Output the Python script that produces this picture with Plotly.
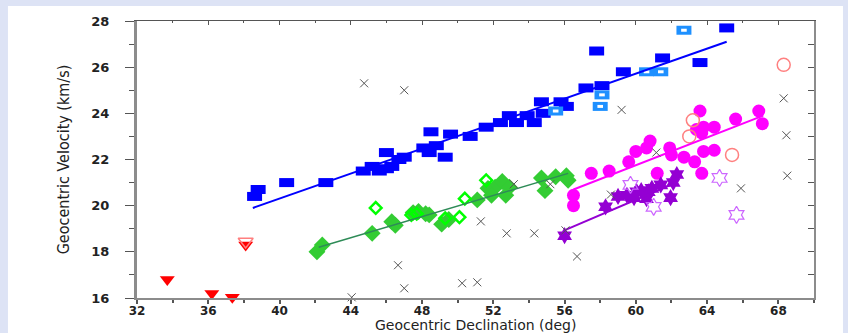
import plotly.graph_objects as go

# ---- Data: geocentric declination (deg) vs geocentric velocity (km/s) ----
# Blue filled squares
blue_x = [38.6, 38.8, 40.4, 42.6, 44.7, 45.2, 45.6, 46.0, 46.0, 46.3, 46.7, 47.0,
          48.1, 48.5, 48.4, 48.8, 49.3, 49.6, 50.7, 51.6, 52.4, 52.9, 53.3, 53.9,
          54.3, 54.7, 54.8, 55.8, 56.1, 57.2, 58.1, 57.8, 59.3, 61.5, 63.6, 65.1]
blue_y = [20.4, 20.7, 21.0, 21.0, 21.5, 21.7, 21.5, 22.3, 21.6, 21.7, 22.0, 22.1,
          22.5, 23.2, 22.3, 22.6, 22.1, 23.1, 23.0, 23.4, 23.6, 23.9, 23.6, 23.9,
          23.6, 24.5, 24.0, 24.5, 24.3, 25.1, 25.2, 26.7, 25.8, 26.4, 26.2, 27.7]
# Light blue open squares
ltblue_x = [55.5, 58.1, 58.0, 60.6, 61.4, 62.7]
ltblue_y = [24.1, 24.8, 24.3, 25.8, 25.8, 27.6]
blue_fit_x = [38.5, 65.1]
blue_fit_y = [19.9, 27.1]

# Green filled diamonds
green_x = [42.1, 42.4, 45.2, 46.3, 46.5, 47.5, 47.8, 48.2, 48.4, 49.1, 49.5, 51.1,
           51.7, 52.1, 52.5, 52.7, 51.9, 52.9, 54.7, 54.9, 55.5, 56.1, 56.2]
green_y = [18.0, 18.3, 18.8, 19.3, 19.15, 19.7, 19.75, 19.65, 19.6, 19.2, 19.4, 20.25,
           20.75, 20.8, 21.05, 20.45, 20.45, 20.8, 21.2, 20.65, 21.25, 21.3, 21.1]
# Green open diamonds
ltgreen_x = [45.4, 47.4, 47.7, 49.3, 50.1, 50.4, 51.6]
ltgreen_y = [19.9, 19.6, 19.65, 19.45, 19.5, 20.3, 21.1]
green_fit_x = [42.2, 56.2]
green_fit_y = [18.2, 21.4]

# Magenta filled circles
mag_x = [63.6, 66.9, 65.6, 67.1, 63.4, 63.8, 64.4, 63.7, 60.8, 60.6, 60.0, 61.9,
         62.0, 62.7, 63.8, 64.4, 63.3, 59.6, 58.5, 57.5, 61.2, 63.7, 56.5, 56.5]
mag_y = [24.1, 24.1, 23.75, 23.55, 23.3, 23.4, 23.4, 23.15, 22.8, 22.5, 22.35, 22.5,
         22.2, 22.1, 22.35, 22.4, 21.9, 21.9, 21.5, 21.4, 21.4, 21.4, 20.45, 20.0]
# Pink open circles
pink_x = [63.2, 63.0, 65.4, 68.3]
pink_y = [23.7, 23.0, 22.2, 26.1]
mag_fit_x = [56.5, 67.15]
mag_fit_y = [20.7, 23.9]

# Purple filled stars
purple_x = [56.0, 58.3, 59.0, 59.5, 59.9, 60.05, 60.3, 60.7, 60.9, 61.4, 61.95, 62.1, 62.3, 60.6]
purple_y = [18.7, 19.95, 20.4, 20.45, 20.35, 20.6, 20.65, 20.6, 20.75, 20.9, 20.35, 21.0, 21.35, 20.3]
# Violet open stars
violet_x = [59.7, 61.0, 64.7, 65.65]
violet_y = [20.9, 19.95, 21.2, 19.6]
purple_fit_x = [56.05, 62.1]
purple_fit_y = [18.95, 20.95]

# Red triangles
red_x = [33.7, 36.2, 37.35, 38.1]
red_y = [16.8, 16.2, 16.03, 18.3]
red_open_x = [38.1]
red_open_y = [18.45]

# Sporadic (gray crosses)
cross_x = [44.75, 47.0, 59.2, 68.3, 68.45, 61.15, 68.5, 53.15, 55.2, 51.3, 52.75,
           54.3, 56.05, 56.7, 46.65, 47.0, 44.05, 50.25, 51.1, 58.6, 65.9]
cross_y = [25.3, 25.0, 24.15, 24.65, 23.05, 22.3, 21.3, 20.93, 20.93, 19.32, 18.8,
           18.8, 18.93, 17.8, 17.42, 16.42, 16.03, 16.64, 16.68, 20.48, 20.75]

x_range = [32, 70]
y_range = [16, 28]
x_title = "Geocentric Declination (deg)"
y_title = "Geocentric Velocity (km/s)"

fig = go.Figure()


def pts(x, y, **marker):
    fig.add_trace(go.Scatter(x=x, y=y, mode="markers", marker=marker,
                             showlegend=False, cliponaxis=False, hoverinfo="skip"))


def fit(x, y, color, width):
    fig.add_trace(go.Scatter(x=x, y=y, mode="lines", line=dict(color=color, width=width),
                             showlegend=False, hoverinfo="skip"))


# red triangles
pts(red_x, red_y, symbol="triangle-down", size=13, color="#ff0000", line=dict(width=0))
pts(red_open_x, red_open_y, symbol="triangle-down-open", size=13, color="#ff7f7f",
    line=dict(width=1.5, color="#ff7f7f"))

# blue rectangles (wide bars)
pts(blue_x, blue_y, symbol="line-ew", size=10.7, color="#0000ff",
    line=dict(width=9, color="#0000ff"))
pts(ltblue_x, ltblue_y, symbol="line-ew", size=10.7, color="#1e90ff",
    line=dict(width=9, color="#1e90ff"))
pts(ltblue_x, ltblue_y, symbol="line-ew", size=4, color="#ffffff",
    line=dict(width=3, color="#ffffff"))

# green diamonds
pts(green_x, green_y, symbol="diamond", size=13, color="#33cc33", line=dict(width=0))
pts(ltgreen_x, ltgreen_y, symbol="diamond-open", size=9, color="#00ff00",
    line=dict(width=2.5, color="#00ff00"))

# magenta circles
pts(mag_x, mag_y, symbol="circle", size=13, color="#ff00ff", line=dict(width=0))
pts(pink_x, pink_y, symbol="circle-open", size=13, color="#ff8080",
    line=dict(width=1.5, color="#ff8080"))

# purple stars
pts(purple_x, purple_y, symbol="hexagram", size=13, color="#9400d3", line=dict(width=0))
pts(violet_x, violet_y, symbol="hexagram-open", size=13, color="#cc66ff",
    line=dict(width=1.2, color="#cc66ff"))

# regression lines
fit(blue_fit_x, blue_fit_y, "#0000ff", 2)
fit(green_fit_x, green_fit_y, "#2e8b57", 1.5)
fit(mag_fit_x, mag_fit_y, "#ff00ff", 2)
fit(purple_fit_x, purple_fit_y, "#9400d3", 2)

# sporadic crosses
pts(cross_x, cross_y, symbol="x-thin-open", size=8, color="#555555",
    line=dict(width=1, color="#555555"))

# helper trace so the mirrored top/right axes are drawn
fig.add_trace(go.Scatter(x=[], y=[], xaxis="x2", yaxis="y2", showlegend=False))

tick_font = dict(family="DejaVu Sans", size=13, color="#222222", weight="bold")
xtick_font = dict(family="DejaVu Sans", size=12, color="#222222", weight="bold")

fig.update_layout(
    width=848, height=333,
    margin=dict(l=137, r=34, t=21, b=35),
    paper_bgcolor="#dde3f5",
    plot_bgcolor="#ffffff",
    showlegend=False,
    xaxis=dict(
        range=x_range, tick0=32, dtick=4, showgrid=False, zeroline=False,
        automargin=False,
        showline=True, linecolor="#8c8c8c", linewidth=2,
        ticks="outside", ticklen=4, tickwidth=1.5, tickcolor="#555555",
        minor=dict(dtick=2, ticks="outside", ticklen=3, tickcolor="#555555"),
        tickfont=xtick_font, ticklabelstandoff=-3,
    ),
    yaxis=dict(
        range=y_range, tick0=16, dtick=2, showgrid=False, zeroline=False,
        automargin=False,
        showline=True, linecolor="#8c8c8c", linewidth=3,
        ticks="outside", ticklen=9, tickwidth=1, tickcolor="#555555",
        minor=dict(dtick=1, ticks="outside", ticklen=5, tickcolor="#555555"),
        tickfont=tick_font, ticklabelstandoff=13,
        title=dict(text=y_title, standoff=18,
                   font=dict(family="Liberation Sans Narrow, DejaVu Sans Condensed, Liberation Sans",
                             size=16, color="#222222")),
    ),
    xaxis2=dict(
        overlaying="x", side="top", matches="x", range=x_range, tick0=32, dtick=4,
        showgrid=False, zeroline=False, showticklabels=False, automargin=False,
        showline=True, linecolor="#555555", linewidth=1,
        ticks="inside", ticklen=4, tickcolor="#555555",
        minor=dict(dtick=2, ticks="inside", ticklen=2, tickcolor="#555555"),
    ),
    yaxis2=dict(
        overlaying="y", side="right", matches="y", range=y_range, tick0=16, dtick=1,
        showgrid=False, zeroline=False, showticklabels=False, automargin=False,
        showline=True, linecolor="#8c8c8c", linewidth=2,
        ticks="inside", ticklen=6, tickcolor="#555555",
    ),
    # x-axis title sits low, just above the lower edge of the page
    annotations=[dict(text=x_title, xref="paper", yref="paper", x=0.5, y=-0.0957,
                      xanchor="center", yanchor="middle", showarrow=False,
                      font=dict(family="DejaVu Sans", size=14, color="#222222"))],
    shapes=[dict(type="rect", xref="paper", yref="paper",
                 x0=-0.1906, x1=1.0428, y0=-0.13, y1=1.0542,
                 fillcolor="#ffffff", line=dict(width=0), layer="below")],
)

fig.write_html("out.html")
